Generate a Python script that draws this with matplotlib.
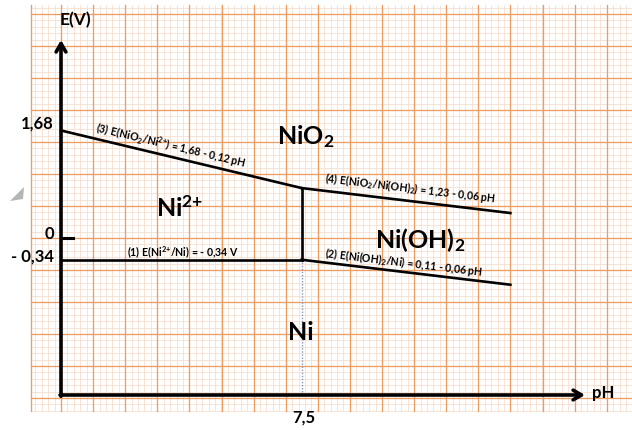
import numpy as np
import matplotlib
matplotlib.use("Agg")
import matplotlib.pyplot as plt
from matplotlib.patches import Polygon

plt.rcParams['font.family'] = ['Lato', 'DejaVu Sans']
plt.rcParams['mathtext.fontset'] = 'custom'
plt.rcParams['mathtext.rm'] = 'Lato'
plt.rcParams['mathtext.bf'] = 'Lato:bold'
plt.rcParams['mathtext.it'] = 'Lato:italic'

# ---- data ----
pH_boundary = 7.5
pH_max = 14.0
E_ni2_ni = -0.34            # (1)
a2, b2 = 0.11, -0.06        # (2) E = 0.11 - 0.06 pH
a3, b3 = 1.68, -0.12        # (3) E = 1.68 - 0.12 pH
a4, b4 = 1.23, -0.06        # (4) E = 1.23 - 0.06 pH
E_ticks = [1.68, 0.0, -0.34]
E_tick_labels = ["1,68", "0", "- 0,34"]
pH_tick_label = "7,5"
species = [r"NiO$_\mathbf{2}$", r"Ni$^{\mathbf{2{+}}}$", r"Ni(OH)$_\mathbf{2}$", "Ni"]
species_pos = [(7.63, 1.58), (3.7, 0.47), (11.2, -0.03), (7.48, -1.48)]

# ---- figure ----
W, H = 632, 430
fig = plt.figure(figsize=(W / 100, H / 100), dpi=100)
ax = fig.add_axes([0, 0, 1, 1])
ppx, ppy = 32.1, 64.0
x0px, y0px = 61, 238
ax.set_xlim(-x0px / ppx, (W - x0px) / ppx)
ax.set_ylim(-(H - y0px) / ppy, y0px / ppy)
ax.axis('off')

def px2d(px, py):
    return ((px - x0px) / ppx, (y0px - py) / ppy)

# graph paper
xl, xr = -0.95, 18.0
yb, yt = -2.70, 3.64
minor_c, major_c = '#f7dccc', '#ee9d62'
for x in np.arange(-0.8, xr, 0.2):
    ax.plot([x, x], [yb, yt], color=minor_c, lw=0.55, zorder=0)
for y in np.arange(-2.7, yt, 0.1):
    ax.plot([xl, xr], [y, y], color=minor_c, lw=0.55, zorder=0)
for x in np.arange(-1.0, xr, 1.0):
    if x >= xl - 0.06:
        ax.plot([max(x, xl), max(x, xl)], [yb, yt], color=major_c, lw=0.95, zorder=1)
for y in np.arange(-2.5, yt, 0.5):
    ax.plot([xl, xr], [y, y], color=major_c, lw=0.95, zorder=1)

# small grey artifact at left
ax.add_patch(Polygon([px2d(10, 201), px2d(24, 187), px2d(23, 199)],
                     closed=True, color='#b5b5b5', lw=0, zorder=2))

# axes arrows
E_axis = px2d(0, 395)[1]
E_top = px2d(0, 40)[1]
pH_end = px2d(585, 0)[0]
ax.annotate('', xy=(0, E_top), xytext=(0, E_axis - 0.02),
            arrowprops=dict(arrowstyle='->,head_length=0.6,head_width=0.35',
                            lw=2.6, color='black', shrinkA=0, shrinkB=0), zorder=5)
ax.annotate('', xy=(pH_end, E_axis), xytext=(-0.03, E_axis),
            arrowprops=dict(arrowstyle='->,head_length=0.6,head_width=0.35',
                            lw=2.6, color='black', shrinkA=0, shrinkB=0), zorder=5)

# boundary lines
lw = 1.9
ax.plot([0, pH_boundary], [E_ni2_ni, E_ni2_ni], color='black', lw=lw, zorder=4)
xs = np.array([0, pH_boundary])
ax.plot(xs, a3 + b3 * xs, color='black', lw=lw, zorder=4)
xs2 = np.array([pH_boundary, pH_max])
ax.plot(xs2, a4 + b4 * xs2, color='black', lw=lw, zorder=4)
ax.plot(xs2, a2 + b2 * xs2, color='black', lw=lw, zorder=4)
E_top_v = a3 + b3 * pH_boundary
ax.plot([pH_boundary, pH_boundary], [E_ni2_ni, E_top_v], color='black', lw=lw, zorder=4)
ax.plot([pH_boundary, pH_boundary], [E_axis, E_ni2_ni], color='#8797c0', lw=1.0,
        ls=(0, (1, 1.2)), zorder=3)

# tick at 0
ax.plot([0, px2d(73, 0)[0]], [0, 0], color='black', lw=2.2, zorder=4)

# axis labels
ax.text(*px2d(75, 20), "E(V)", fontsize=12.5, fontweight='bold', ha='center', va='center')
ax.text(*px2d(603, 393), "pH", fontsize=12, fontweight='bold', ha='center', va='center')
tick_py = [124, 234, 257]
for E, lab, py in zip(E_ticks, E_tick_labels, tick_py):
    ax.text(px2d(54, 0)[0], px2d(0, py)[1], lab, fontsize=12, fontweight='bold',
            ha='right', va='center')
ax.text(px2d(304, 0)[0], px2d(0, 418)[1], pH_tick_label, fontsize=12, fontweight='bold',
        ha='center', va='center')

# species labels
for s, (x, y) in zip(species, species_pos):
    ax.text(x, y, s, fontsize=18, fontweight='bold', ha='center', va='center', zorder=6)

# line labels
def angle(slope):
    return -np.degrees(np.arctan(-slope * ppy / ppx))

lab_fs = 7.6
ax.text(*px2d(171, 146), r"(3) E(NiO$_\mathbf{2}$/Ni$^{\mathbf{2{+}}}$) = 1,68 - 0,12 pH",
        fontsize=lab_fs, fontweight='bold', rotation=angle(b3), rotation_mode='anchor',
        ha='center', va='center', zorder=6)
ax.text(*px2d(410, 188), r"(4) E(NiO$_\mathbf{2}$/Ni(OH)$_\mathbf{2}$) = 1,23 - 0,06 pH",
        fontsize=lab_fs, fontweight='bold', rotation=angle(b4), rotation_mode='anchor',
        ha='center', va='center', zorder=6)
ax.text(*px2d(404, 263), r"(2) E(Ni(OH)$_\mathbf{2}$/Ni) = 0,11 - 0,06 pH",
        fontsize=lab_fs, fontweight='bold', rotation=angle(b2), rotation_mode='anchor',
        ha='center', va='center', zorder=6)
ax.text(*px2d(183, 253), r"(1) E(Ni$^{\mathbf{2{+}}}$/Ni) = - 0,34 V",
        fontsize=lab_fs, fontweight='bold', ha='center', va='center', zorder=6)

fig.savefig("out.png", dpi=100, facecolor='white')
